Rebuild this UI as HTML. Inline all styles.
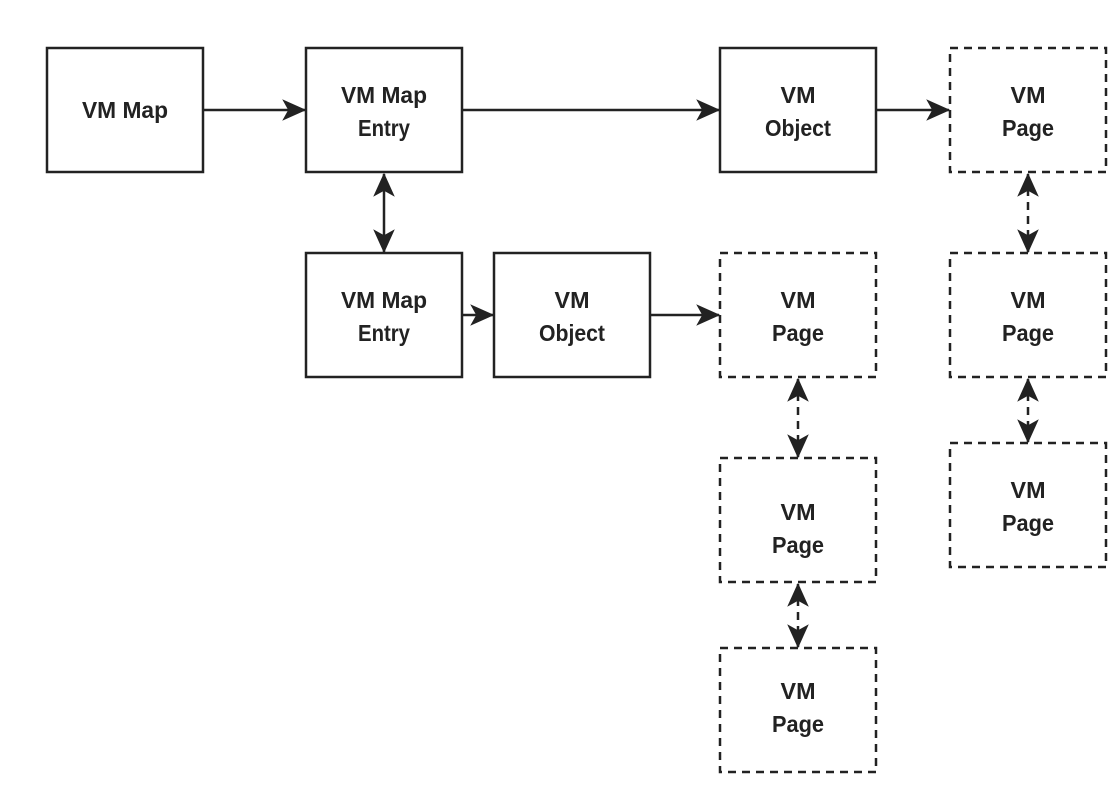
<!DOCTYPE html>
<html><head><meta charset="utf-8"><style>
html,body{margin:0;padding:0;background:#fff;}
svg text{font-family:"Liberation Sans",sans-serif;font-size:23px;font-weight:bold;fill:#222;text-anchor:middle;}
</style></head><body>
<svg width="1120" height="786" viewBox="0 0 1120 786" xmlns="http://www.w3.org/2000/svg">
<defs>
<marker id="b" viewBox="0 0 20 20" refX="19" refY="10" markerWidth="24" markerHeight="24" markerUnits="userSpaceOnUse" orient="auto-start-reverse">
<path d="M0,1 L20,10 L0,19 L5,10 Z" fill="#222"/></marker>
</defs>
<g fill="none" stroke="#222" stroke-width="2.5">
<rect x="47" y="48" width="156" height="124"/>
<rect x="306" y="48" width="156" height="124"/>
<rect x="720" y="48" width="156" height="124"/>
<rect x="306" y="253" width="156" height="124"/>
<rect x="494" y="253" width="156" height="124"/>
<g stroke-dasharray="8,6">
<rect x="950" y="48" width="156" height="124"/>
<rect x="720" y="253" width="156" height="124"/>
<rect x="720" y="458" width="156" height="124"/>
<rect x="720" y="648" width="156" height="124"/>
<rect x="950" y="253" width="156" height="124"/>
<rect x="950" y="443" width="156" height="124"/>
</g>
<line x1="203" y1="110" x2="305" y2="110" marker-end="url(#b)"/>
<line x1="462" y1="110" x2="719" y2="110" marker-end="url(#b)"/>
<line x1="876" y1="110" x2="949" y2="110" marker-end="url(#b)"/>
<line x1="462" y1="315" x2="493" y2="315" marker-end="url(#b)"/>
<line x1="650" y1="315" x2="719" y2="315" marker-end="url(#b)"/>
<line x1="384" y1="174" x2="384" y2="252" marker-start="url(#b)" marker-end="url(#b)"/>
<g stroke-dasharray="8,6">
<line x1="798" y1="379" x2="798" y2="457" marker-start="url(#b)" marker-end="url(#b)"/>
<line x1="798" y1="584" x2="798" y2="647" marker-start="url(#b)" marker-end="url(#b)"/>
<line x1="1028" y1="174" x2="1028" y2="252" marker-start="url(#b)" marker-end="url(#b)"/>
<line x1="1028" y1="379" x2="1028" y2="442" marker-start="url(#b)" marker-end="url(#b)"/>
</g>
</g>
<g>
<text x="125" y="118" textLength="86" lengthAdjust="spacingAndGlyphs">VM Map</text>
<text x="384" y="103" textLength="86" lengthAdjust="spacingAndGlyphs">VM Map</text><text x="384" y="136" textLength="52" lengthAdjust="spacingAndGlyphs">Entry</text>
<text x="798" y="103" textLength="35" lengthAdjust="spacingAndGlyphs">VM</text><text x="798" y="136" textLength="66" lengthAdjust="spacingAndGlyphs">Object</text>
<text x="1028" y="103" textLength="35" lengthAdjust="spacingAndGlyphs">VM</text><text x="1028" y="136" textLength="52" lengthAdjust="spacingAndGlyphs">Page</text>
<text x="384" y="308" textLength="86" lengthAdjust="spacingAndGlyphs">VM Map</text><text x="384" y="341" textLength="52" lengthAdjust="spacingAndGlyphs">Entry</text>
<text x="572" y="308" textLength="35" lengthAdjust="spacingAndGlyphs">VM</text><text x="572" y="341" textLength="66" lengthAdjust="spacingAndGlyphs">Object</text>
<text x="798" y="308" textLength="35" lengthAdjust="spacingAndGlyphs">VM</text><text x="798" y="341" textLength="52" lengthAdjust="spacingAndGlyphs">Page</text>
<text x="798" y="520" textLength="35" lengthAdjust="spacingAndGlyphs">VM</text><text x="798" y="553" textLength="52" lengthAdjust="spacingAndGlyphs">Page</text>
<text x="798" y="699" textLength="35" lengthAdjust="spacingAndGlyphs">VM</text><text x="798" y="732" textLength="52" lengthAdjust="spacingAndGlyphs">Page</text>
<text x="1028" y="308" textLength="35" lengthAdjust="spacingAndGlyphs">VM</text><text x="1028" y="341" textLength="52" lengthAdjust="spacingAndGlyphs">Page</text>
<text x="1028" y="498" textLength="35" lengthAdjust="spacingAndGlyphs">VM</text><text x="1028" y="531" textLength="52" lengthAdjust="spacingAndGlyphs">Page</text>
</g>
</svg>
</body></html>
